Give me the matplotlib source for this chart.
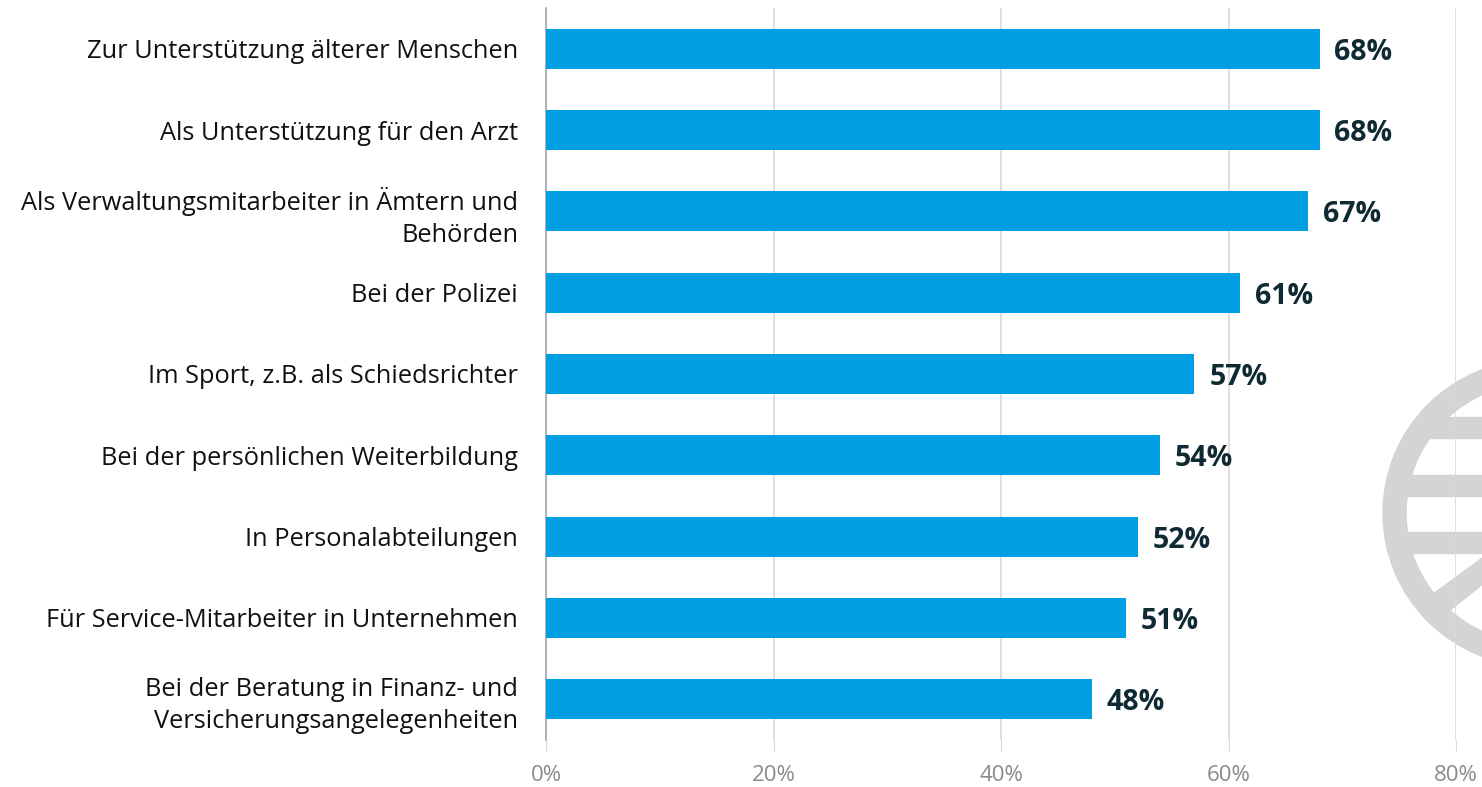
import numpy as np
import matplotlib
matplotlib.use("Agg")
import matplotlib.pyplot as plt
from matplotlib.patches import Wedge, Rectangle, Polygon

# Daten
kategorien = [
    "Zur Unterstützung älterer Menschen",
    "Als Unterstützung für den Arzt",
    "Als Verwaltungsmitarbeiter in Ämtern und\nBehörden",
    "Bei der Polizei",
    "Im Sport, z.B. als Schiedsrichter",
    "Bei der persönlichen Weiterbildung",
    "In Personalabteilungen",
    "Für Service-Mitarbeiter in Unternehmen",
    "Bei der Beratung in Finanz- und\nVersicherungsangelegenheiten",
]
werte = [68, 68, 67, 61, 57, 54, 52, 51, 48]
x_ticks = [0, 20, 40, 60, 80]
x_tick_labels = ["0%", "20%", "40%", "60%", "80%"]

plt.rcParams['font.family'] = ['Open Sans', 'DejaVu Sans']

W, H = 1482, 787
fig = plt.figure(figsize=(W / 100, H / 100), dpi=100)

# Wasserzeichen (graues Logo rechts), in Pixelkoordinaten
bg = fig.add_axes([0, 0, 1, 1], zorder=0)
bg.set_xlim(0, W)
bg.set_ylim(H, 0)
bg.axis('off')
grau = '#d4d4d4'
cx, cy, r, ring = 1536, 513, 153, 23
bg.add_patch(Wedge((cx, cy), r, 0, 360, width=ring, color=grau))
for y0 in [417, 475, 532]:
    dy = min(abs(y0 - cy), abs(y0 + 21 - cy))
    x0 = cx - np.sqrt((r - ring) ** 2 - dy ** 2) - 4
    bg.add_patch(Rectangle((x0, y0), W - x0, 21, color=grau))
bg.add_patch(Polygon([(1425, 600), (1500, 545), (1512, 561), (1440, 618)], color=grau))

# Hauptdiagramm
ax = fig.add_axes([546 / W, 1 - 740 / H, (1456 - 546) / W, (740 - 8) / H], zorder=1)
ax.patch.set_alpha(0)

y = np.arange(len(kategorien))
ax.barh(y, werte, height=0.49, color='#009fe3', zorder=3)
for yi, v in zip(y, werte):
    ax.text(v + 1.3, yi, f"{v}%", va='center_baseline', ha='left', fontsize=20.5,
            fontweight='bold', color='#0f2a33', zorder=4)

ax.set_ylim(len(kategorien) - 0.5, -0.5)
ax.set_xlim(0, 80)
ax.set_yticks(y)
ax.set_yticklabels(kategorien, fontsize=18.3, color='#111111', linespacing=1.35)
ax.set_xticks(x_ticks)
ax.set_xticklabels(x_tick_labels, fontsize=16, color='#8a8a8a')
ax.tick_params(axis='y', length=0, pad=20)
ax.tick_params(axis='x', length=8, color='#d9d9d9', pad=10)
ax.grid(axis='x', color='#d9d9d9', linewidth=1.2, zorder=0)
for s in ['top', 'right', 'bottom']:
    ax.spines[s].set_visible(False)
ax.spines['left'].set_color('#a6a6a6')
ax.spines['left'].set_linewidth(1.2)

fig.savefig('out.png', dpi=100)
